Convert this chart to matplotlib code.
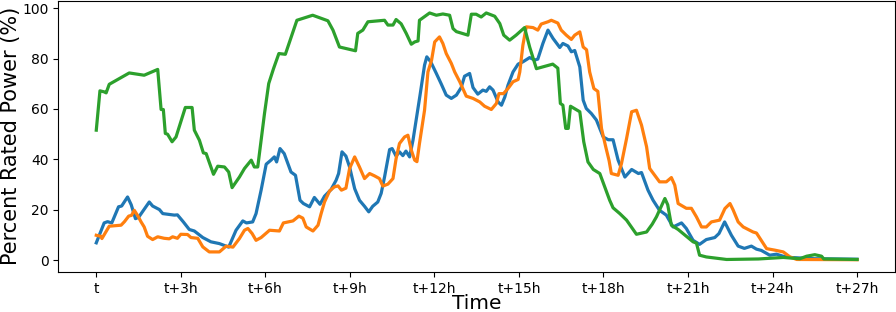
import matplotlib
matplotlib.use('Agg')
import matplotlib.pyplot as plt

# hours after t
green_h = [0, 0.13, 0.28, 0.35, 0.46, 1.17, 1.7, 2.18, 2.3, 2.38, 2.45, 2.53, 2.69, 2.83, 3.16, 3.4,
           3.48, 3.66, 3.8, 3.9, 4.16, 4.31, 4.55, 4.7, 4.82, 5.08, 5.26, 5.5, 5.61, 5.73, 5.97, 6.12,
           6.29, 6.48, 6.71, 7.12, 7.68, 8.22, 8.4, 8.63, 9.2, 9.28, 9.46, 9.64, 10.23, 10.35, 10.53,
           10.64, 10.82, 11.0, 11.18, 11.3, 11.42, 11.47, 11.83, 12.07, 12.3, 12.54, 12.66, 12.78,
           13.19, 13.31, 13.48, 13.66, 13.84, 14.14, 14.32, 14.46, 14.67, 14.9, 15.2, 15.38, 15.62,
           16.2, 16.38, 16.47, 16.56, 16.66, 16.75, 16.83, 17.16, 17.3, 17.45, 17.64, 17.87, 18.22,
           18.34, 18.58, 18.82, 19.17, 19.53, 19.73, 19.88, 20.18, 20.28, 20.41, 20.65, 21.18, 21.3,
           21.41, 21.65, 22.37, 23.5, 24.38, 24.97, 25.21, 25.5, 25.74, 25.82, 27.0]
green_v = [51.6, 67.2, 66.8, 66.4, 69.8, 74.3, 73.4, 75.7, 59.8, 59.8, 50.3, 50.0, 47, 48.9, 60.6, 60.6,
           51.6, 47.6, 42.6, 42.3, 34.1, 37.3, 37, 35, 28.8, 33, 36.4, 39.7, 37, 37, 58.2, 70.1,
           76, 82, 81.7, 95.2, 97.2, 95, 91.3, 84.6, 83.1, 90, 91.3, 94.6, 95.2, 93.3, 93.3,
           95.5, 93.8, 90, 85.7, 86.6, 87, 95.2, 98.1, 97.2, 97.7, 97.2, 91.9, 90.7,
           89.3, 97.6, 97.6, 96.5, 98.1, 96.8, 93.9, 89.3, 87.3, 89.3, 92.3, 84.6, 76,
           77.8, 76.2, 62.2, 61.5, 52.3, 52.3, 61.1, 58.9, 47, 39, 36, 34.4, 23.8,
           20.8, 18.5, 15.9, 10.3, 11.2, 14.3, 17.2, 24.5, 22, 13.9, 12.2, 7.3, 6.8,
           2, 1.3, 0.3, 0.5, 1.1, 0.6, 1.6, 2.2, 1.6, 0.5, 0.3]

blue_h = [0, 0.28, 0.4, 0.55, 0.79, 0.9, 1.11, 1.24, 1.39, 1.5, 1.88, 2.0, 2.24, 2.36, 2.77, 2.88,
          3.09, 3.3, 3.48, 3.78, 4.07, 4.37, 4.61, 4.7, 4.96, 5.2, 5.33, 5.55, 5.67, 5.85, 6.03,
          6.2, 6.32, 6.4, 6.52, 6.67, 6.91, 7.07, 7.23, 7.35, 7.57, 7.74, 7.94, 8.1, 8.33, 8.51,
          8.6, 8.72, 8.86, 8.99, 9.17, 9.34, 9.52, 9.67, 9.81, 9.99, 10.11, 10.23, 10.41, 10.5,
          10.64, 10.76, 10.88, 10.99, 11.12, 11.24, 11.36, 11.49, 11.65, 11.73, 11.87, 12.06,
          12.24, 12.42, 12.6, 12.78, 12.95, 13.07, 13.25, 13.37, 13.54, 13.72, 13.84, 13.96,
          14.08, 14.26, 14.38, 14.5, 14.61, 14.79, 14.97, 15.14, 15.38, 15.56, 15.67, 15.85,
          16.03, 16.21, 16.45, 16.56, 16.74, 16.86, 16.98, 17.16, 17.28, 17.39, 17.57, 17.75,
          17.99, 18.17, 18.34, 18.52, 18.76, 19.0, 19.24, 19.35, 19.58, 19.76, 19.99, 20.23,
          20.47, 20.77, 20.94, 21.18, 21.41, 21.65, 21.95, 22.1, 22.3, 22.54, 22.78, 23.0,
          23.25, 23.43, 23.6, 23.9, 24.14, 24.37, 24.62, 25.5, 27.0]
blue_v = [6.9, 14.8, 15.3, 14.8, 21.2, 21.5, 25.1, 22, 16.5, 17, 23.1, 21.5, 20.1, 18.5, 17.9, 18,
          15.2, 12.2, 11.6, 9, 7.3, 6.6, 5.6, 5.2, 11.9, 15.6, 14.8, 15.2, 18.5, 27.8, 38.1,
          39.7, 41, 39, 44.3, 42.3, 35, 33.7, 23.8, 22.5, 21.2, 24.9, 22.2, 25.4, 28, 31.7,
          34.4, 43, 41.3, 37, 28.4, 23.8, 21.4, 19.2, 21.4, 23.1, 26.5, 33, 43.9, 44.3,
          41.3, 43, 41.5, 43.3, 41, 47.6, 56.2, 65.5, 77.4, 80.7, 78.7, 74.3,
          70, 65.5, 64.2, 65.5, 68.5, 73, 74.1, 68.5, 65.9, 67.5, 67, 68.8,
          67.5, 62.8, 61.5, 64.8, 69.4, 74.7, 77.8, 78.7, 80.4, 79.4, 79.8, 86,
          91.3, 88, 84.4, 86, 85, 82.7, 83.2, 76.7, 63.5, 60.2, 58.2, 55.6,
          48.9, 47.8, 47.8, 39.7, 33, 36, 34.4, 34.8, 27.8, 23.8, 19.8, 17.9,
          13.2, 14.8, 12.6, 7.9, 6.3, 8.2, 9, 10.6, 15.2, 9.9, 5.6, 4.7,
          5.6, 4.4, 3.9, 2, 2.4, 1.6, 1.1, 0.6, 0.4]

orange_h = [0, 0.16, 0.2, 0.34, 0.46, 0.88, 1.0, 1.15, 1.25, 1.35, 1.48, 1.59, 1.7, 1.82, 2.0, 2.18,
            2.41, 2.59, 2.71, 2.88, 3.0, 3.24, 3.36, 3.6, 3.78, 4.01, 4.37, 4.61, 4.85, 5.08, 5.26,
            5.38, 5.53, 5.67, 5.85, 6.15, 6.5, 6.64, 6.98, 7.19, 7.33, 7.45, 7.69, 7.87, 7.98, 8.1,
            8.28, 8.45, 8.58, 8.7, 8.86, 8.99, 9.17, 9.34, 9.52, 9.7, 9.87, 10.05, 10.17, 10.35,
            10.53, 10.64, 10.76, 10.94, 11.06, 11.18, 11.3, 11.38, 11.47, 11.65, 11.77, 11.9, 12.01,
            12.18, 12.3, 12.42, 12.6, 12.72, 12.9, 13.13, 13.37, 13.61, 13.78, 14.02, 14.2, 14.29,
            14.45, 14.61, 14.79, 14.97, 15.03, 15.14, 15.26, 15.5, 15.67, 15.79, 16.03, 16.15,
            16.38, 16.5, 16.68, 16.86, 16.98, 17.16, 17.28, 17.4, 17.51, 17.66, 17.8, 17.93, 18.08,
            18.2, 18.28, 18.52, 18.64, 18.82, 19.0, 19.17, 19.35, 19.53, 19.64, 19.82, 19.99,
            20.23, 20.41, 20.53, 20.65, 20.94, 21.12, 21.3, 21.48, 21.65, 21.83, 22.12, 22.31,
            22.49, 22.6, 22.78, 22.96, 23.31, 23.43, 23.61, 23.79, 24.08, 24.38, 24.62, 24.86, 27.0]
orange_v = [9.9, 9.5, 8.6, 11.2, 13.5, 13.9, 15.3, 17.5, 17.8, 19.8, 17.5, 15.2, 13.2, 9.5, 8.2, 9.3,
            8.7, 8.5, 9.3, 8.7, 10.3, 10.2, 9, 8.7, 5.3, 3.3, 3.3, 5.6, 5.2, 8.6, 11.9,
            12.6, 10.6, 7.9, 9, 11.9, 11.6, 14.8, 15.6, 17.5, 16.7, 13.2, 11.6, 13.9, 18.5, 23.1,
            27.5, 29.1, 29.5, 27.8, 28.6, 36.4, 41, 37, 32.4, 34.4, 33.5, 32.4, 29.4, 30.2,
            32.4, 40.3, 46.3, 48.9, 49.6, 43.7, 39.7, 39.1, 46.3, 59.5, 74.7, 79.4, 86.6,
            88.6, 86, 82, 78.1, 74.7, 70.8, 65.1, 64.2, 62.8, 61.1, 59.8, 62.2, 66.1,
            66.1, 68.1, 70.8, 71.7, 74.7, 85.3, 92.6, 92.3, 91.3, 93.7, 94.6, 95.2,
            94.1, 91.3, 89.3, 87.6, 89.3, 90.6, 84.6, 83.5, 74.7, 68.1, 67, 52.3, 45,
            39.5, 34.4, 33.7, 38.4, 48.3, 58.9, 59.5, 53.6, 45, 36.4, 33.7, 31.1,
            31.1, 32.8, 29.8, 22.5, 20.6, 20.6, 17.2, 13.2, 13.2, 15.2, 15.9, 20.5,
            22.5, 20, 15.2, 13.2, 11.2, 10.8, 7.7, 4.6, 4, 3.3, 1.3, 0.3, 0.2]

tick_hours = list(range(0, 28, 3))
tick_labels = ['t'] + ['t+%dh' % h for h in tick_hours[1:]]

fig, ax = plt.subplots(figsize=(8.96, 3.12), dpi=100)
ax.plot(blue_h, blue_v, color='#1f77b4', lw=2.3)
ax.plot(orange_h, orange_v, color='#ff7f0e', lw=2.3)
ax.plot(green_h, green_v, color='#2ca02c', lw=2.3)

ax.set_xticks(tick_hours)
ax.set_xticklabels(tick_labels)
ax.tick_params(labelsize=10)
ax.set_xlabel('Time', fontsize=14.5, labelpad=-1)
ax.set_ylabel('Percent Rated Power (%)', fontsize=15, labelpad=1)

fig.subplots_adjust(left=0.065, right=0.999, top=0.998, bottom=0.128)
fig.savefig('out.png')
